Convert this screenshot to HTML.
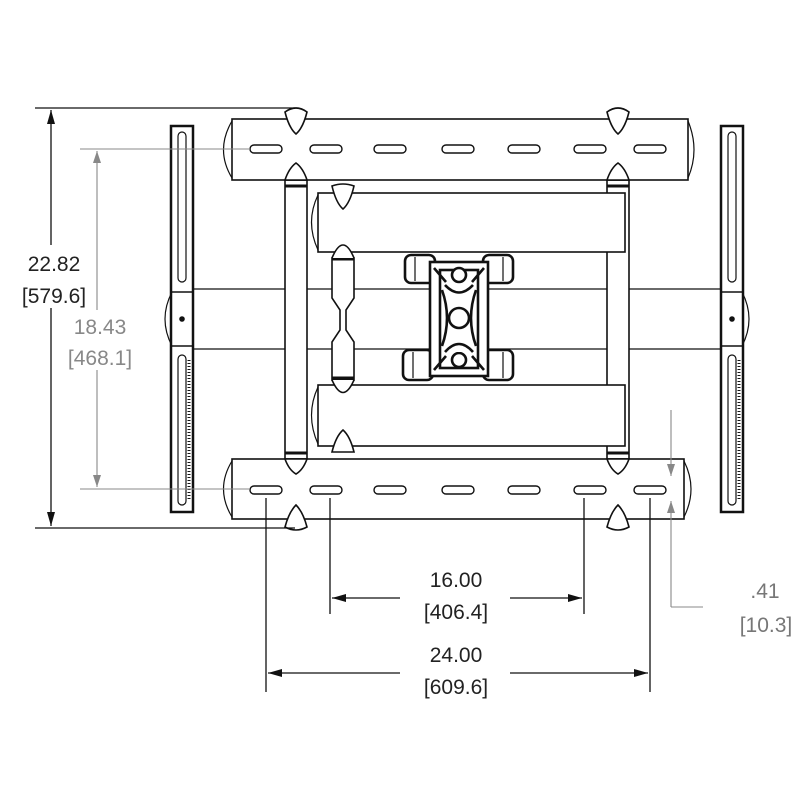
<!DOCTYPE html>
<html><head><meta charset="utf-8"><style>
html,body{margin:0;padding:0;background:#fff;}
svg{display:block;}
text{font-family:"Liberation Sans",sans-serif;font-size:21px;}
</style></head><body>
<svg width="800" height="800" viewBox="0 0 800 800" xmlns="http://www.w3.org/2000/svg">
<defs>
<marker id="ab" markerWidth="14" markerHeight="8" refX="14" refY="4" orient="auto" markerUnits="userSpaceOnUse"><path d="M0,0 L14,4 L0,8 z" fill="#111"/></marker>
<marker id="ag" markerWidth="12" markerHeight="8" refX="12" refY="4" orient="auto" markerUnits="userSpaceOnUse"><path d="M0,0 L12,4 L0,8 z" fill="#888"/></marker>
</defs>
<g fill="none" stroke="#111" stroke-width="1.6">
<line x1="185" y1="289" x2="735" y2="289" stroke-width="1.2"/>
<line x1="185" y1="349" x2="735" y2="349" stroke-width="1.2"/>
<path d="M172,292 Q158,319 172,346" stroke-width="1.2"/>
<path d="M742,292 Q756,319 742,346" stroke-width="1.2"/>
<rect x="285" y="180" width="22" height="279" fill="#fff"/>
<rect x="607" y="180" width="22" height="279" fill="#fff"/>
<line x1="285" y1="186" x2="307" y2="186" stroke-width="3"/>
<line x1="607" y1="186" x2="629" y2="186" stroke-width="3"/>
<line x1="285" y1="453" x2="307" y2="453" stroke-width="3"/>
<line x1="607" y1="453" x2="629" y2="453" stroke-width="3"/>
<rect x="318" y="193" width="307" height="59" fill="#fff"/>
<path d="M318,195 Q305,222 318,250" stroke-width="1.2"/>
<rect x="318" y="385" width="307" height="61" fill="#fff"/>
<path d="M318,387 Q305,415 318,444" stroke-width="1.2"/>
<path d="M332,258 L354,258 L354,298 L346,310 L346,330 L354,342 L354,380 L332,380 L332,342 L340,330 L340,310 L332,298 Z" fill="#fff"/>
<line x1="332" y1="259" x2="354" y2="259" stroke-width="3"/>
<line x1="332" y1="378" x2="354" y2="378" stroke-width="3"/>
<path d="M332,258 Q343,232 354,258" fill="#fff"/>
<path d="M332,380 Q343,405 354,380" fill="#fff"/>
<path d="M332,186 Q343,182 354,186 Q350,203 343,209 Q336,203 332,186Z" fill="#fff"/>
<path d="M332,452 Q336,436 343,430 Q350,436 354,452Z" fill="#fff"/>
<rect x="232" y="119" width="456" height="61" fill="#fff"/>
<path d="M232,121 Q215,150 232,178" stroke-width="1.2"/>
<path d="M688,121 Q700,150 688,178" stroke-width="1.2"/>
<rect x="232" y="459" width="452" height="60" fill="#fff"/>
<path d="M232,461 Q215,489 232,517" stroke-width="1.2"/>
<path d="M684,461 Q698,489 684,517" stroke-width="1.2"/>
<g fill="#fff">
<path d="M285,112 Q296,104 307,112 Q303,128 296,134 Q289,128 285,112Z"/>
<path d="M607,112 Q618,104 629,112 Q625,128 618,134 Q611,128 607,112Z"/>
<path d="M285,180 Q289,168 296,163 Q303,168 307,180Z"/>
<path d="M607,180 Q611,168 618,163 Q625,168 629,180Z"/>
<path d="M285,459 Q289,470 296,474 Q303,470 307,459Z"/>
<path d="M607,459 Q611,470 618,474 Q625,470 629,459Z"/>
<path d="M285,527 Q289,512 296,505 Q303,512 307,527 Q296,533 285,527Z"/>
<path d="M607,527 Q611,512 618,505 Q625,512 629,527 Q618,533 607,527Z"/>
</g>
<g stroke-width="1.4">
<rect x="250" y="145" width="32" height="8" rx="4"/><rect x="310" y="145" width="32" height="8" rx="4"/>
<rect x="374" y="145" width="32" height="8" rx="4"/><rect x="442" y="145" width="32" height="8" rx="4"/>
<rect x="508" y="145" width="32" height="8" rx="4"/><rect x="574" y="145" width="32" height="8" rx="4"/>
<rect x="634" y="145" width="32" height="8" rx="4"/>
<rect x="250" y="486" width="32" height="8" rx="4"/><rect x="310" y="486" width="32" height="8" rx="4"/>
<rect x="374" y="486" width="32" height="8" rx="4"/><rect x="442" y="486" width="32" height="8" rx="4"/>
<rect x="508" y="486" width="32" height="8" rx="4"/><rect x="574" y="486" width="32" height="8" rx="4"/>
<rect x="634" y="486" width="32" height="8" rx="4"/>
</g>
<rect x="171" y="126" width="22" height="386" fill="#fff" stroke-width="2.5"/>
<rect x="178" y="132" width="8" height="150" rx="4" stroke-width="1.2"/>
<rect x="178" y="355" width="8" height="150" rx="4" stroke-width="1.2"/>
<line x1="171" y1="292" x2="193" y2="292"/><line x1="171" y1="346" x2="193" y2="346"/>
<circle cx="182" cy="319" r="2" fill="#111"/>
<rect x="721" y="126" width="22" height="386" fill="#fff" stroke-width="2.5"/>
<rect x="728" y="132" width="8" height="150" rx="4" stroke-width="1.2"/>
<rect x="728" y="355" width="8" height="150" rx="4" stroke-width="1.2"/>
<line x1="721" y1="292" x2="743" y2="292"/><line x1="721" y1="346" x2="743" y2="346"/>
<circle cx="732" cy="319" r="2" fill="#111"/>
<line x1="189" y1="360" x2="189" y2="500" stroke-dasharray="1 2" stroke-width="3"/>
<line x1="739" y1="360" x2="739" y2="500" stroke-dasharray="1 2" stroke-width="3"/>
<g stroke-width="2.6" fill="#fff">
<rect x="405" y="255" width="30" height="28" rx="6"/>
<rect x="483" y="255" width="30" height="28" rx="6"/>
<rect x="403" y="350" width="30" height="30" rx="6"/>
<rect x="483" y="350" width="30" height="30" rx="6"/>
<line x1="415" y1="257" x2="415" y2="281" stroke-width="1.2"/>
<line x1="503" y1="257" x2="503" y2="281" stroke-width="1.2"/>
<line x1="413" y1="352" x2="413" y2="378" stroke-width="1.2"/>
<line x1="503" y1="352" x2="503" y2="378" stroke-width="1.2"/>
<rect x="430" y="262" width="58" height="114"/>
<rect x="440" y="270" width="38" height="98"/>
<circle cx="459" cy="318" r="10"/>
<circle cx="459" cy="275" r="7"/>
<circle cx="459" cy="360" r="7"/>
<path d="M445,285 Q459,300 473,285 M445,352 Q459,336 473,352 M442,290 Q452,318 442,346 M476,290 Q466,318 476,346"/>
<path d="M434,268 L446,282 M484,268 L472,282 M434,370 L446,356 M484,370 L472,356"/>
</g>
</g>
<g stroke="#111" stroke-width="1.3" fill="none">
<line x1="35" y1="108" x2="295" y2="108"/>
<line x1="35" y1="528" x2="295" y2="528"/>
<line x1="51" y1="245" x2="51" y2="110" marker-end="url(#ab)"/>
<line x1="51" y1="308" x2="51" y2="526" marker-end="url(#ab)"/>
<line x1="330" y1="498" x2="330" y2="614"/>
<line x1="584" y1="498" x2="584" y2="614"/>
<line x1="400" y1="598" x2="332" y2="598" marker-end="url(#ab)"/>
<line x1="510" y1="598" x2="582" y2="598" marker-end="url(#ab)"/>
<line x1="266" y1="498" x2="266" y2="692"/>
<line x1="650" y1="498" x2="650" y2="692"/>
<line x1="400" y1="673" x2="268" y2="673" marker-end="url(#ab)"/>
<line x1="510" y1="673" x2="648" y2="673" marker-end="url(#ab)"/>
</g>
<g stroke="#888" stroke-width="1.1" fill="none">
<line x1="80" y1="149" x2="250" y2="149"/>
<line x1="80" y1="489" x2="250" y2="489"/>
<line x1="97" y1="310" x2="97" y2="151" marker-end="url(#ag)"/>
<line x1="97" y1="370" x2="97" y2="487" marker-end="url(#ag)"/>
<line x1="671" y1="410" x2="671" y2="476" marker-end="url(#ag)"/>
<line x1="671" y1="607" x2="671" y2="501" marker-end="url(#ag)"/>
<line x1="671" y1="607" x2="703" y2="607"/>
</g>
<g text-anchor="middle">
<text x="54" y="271" fill="#222">22.82</text>
<text x="54" y="303" fill="#222">[579.6]</text>
<text x="100" y="334" fill="#888">18.43</text>
<text x="100" y="365" fill="#888">[468.1]</text>
<text x="456" y="587" fill="#222">16.00</text>
<text x="456" y="619" fill="#222">[406.4]</text>
<text x="456" y="662" fill="#222">24.00</text>
<text x="456" y="694" fill="#222">[609.6]</text>
<text x="765" y="598" fill="#777">.41</text>
<text x="766" y="632" fill="#777">[10.3]</text>
</g>
</svg>
</body></html>
